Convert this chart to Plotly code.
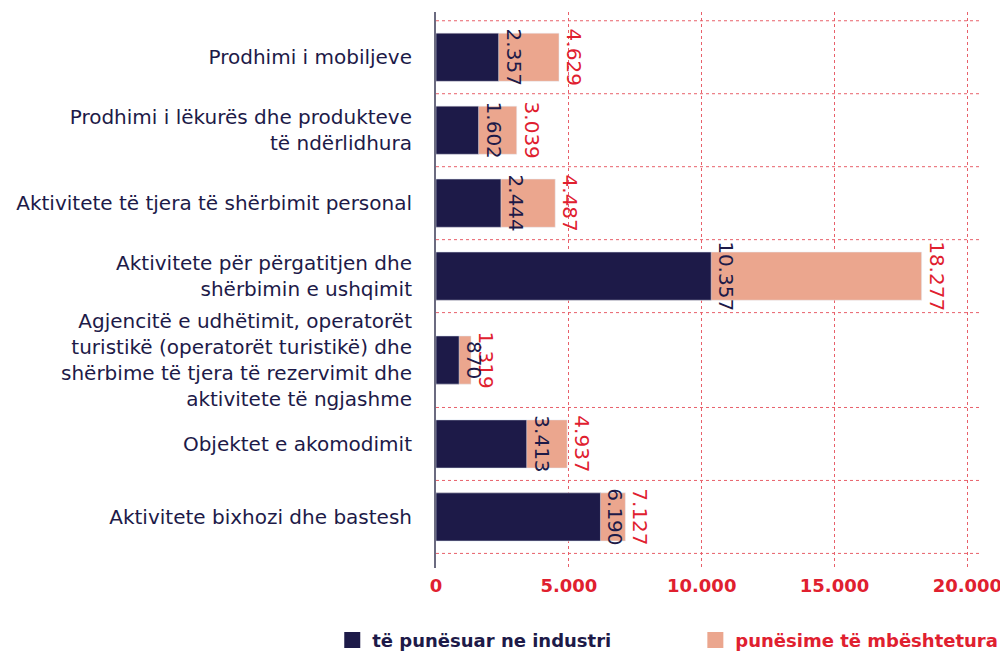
import plotly.graph_objects as go

categories = [
    "Prodhimi i mobiljeve",
    "Prodhimi i lëkurës dhe produkteve<br>të ndërlidhura",
    "Aktivitete të tjera të shërbimit personal",
    "Aktivitete për përgatitjen dhe<br>shërbimin e ushqimit",
    "Agjencitë e udhëtimit, operatorët<br>turistikë (operatorët turistikë) dhe<br>shërbime të tjera të rezervimit dhe<br>aktivitete të ngjashme",
    "Objektet e akomodimit",
    "Aktivitete bixhozi dhe bastesh",
]
employed = [2357, 1602, 2444, 10357, 870, 3413, 6190]
supported = [4629, 3039, 4487, 18277, 1319, 4937, 7127]
x_ticks = [0, 5000, 10000, 15000, 20000]

navy = "#1d1a48"
salmon = "#eba68e"
red = "#e0202f"
grid = "#e8606a"
font = "DejaVu Sans"

# rows with long (4-line) labels get more room, like the original layout
row_h = [1.3 if c.count("<br>") > 1 else 1.0 for c in categories]
edges = [0.0]
for h in row_h:
    edges.append(edges[-1] + h)
centers = [(edges[i] + edges[i + 1]) / 2 for i in range(len(categories))]

fig = go.Figure()

fig.add_trace(
    go.Bar(
        y=centers,
        x=supported,
        orientation="h",
        marker_color=salmon,
        width=0.66,
        texttemplate="%{x:,.0f}",
        textposition="outside",
        textangle=90,
        constraintext="none",
        cliponaxis=False,
        textfont=dict(color=red, size=20, family=font),
        showlegend=False,
    )
)

fig.add_trace(
    go.Bar(
        y=centers,
        x=employed,
        orientation="h",
        marker_color=navy,
        width=0.66,
        texttemplate="%{x:,.0f}",
        textposition="outside",
        textangle=90,
        constraintext="none",
        cliponaxis=False,
        textfont=dict(color=navy, size=20, family=font),
        showlegend=False,
    )
)

# legend entries
fig.add_trace(
    go.Scatter(
        x=[None], y=[None], mode="markers",
        marker=dict(symbol="square", size=22, color=navy),
        name="<b><span style='color:%s'>të punësuar ne industri</span></b>" % navy,
        legend="legend",
    )
)
fig.add_trace(
    go.Scatter(
        x=[None], y=[None], mode="markers",
        marker=dict(symbol="square", size=22, color=salmon),
        name="<b><span style='color:%s'>punësime të mbështetura</span></b>" % red,
        legend="legend2",
    )
)

# dotted separators between categories
for e in edges:
    fig.add_shape(
        type="line",
        xref="paper", x0=0, x1=1,
        yref="y", y0=e, y1=e,
        line=dict(color=grid, width=1, dash="dot"),
        layer="below",
    )

legend_style = dict(
    orientation="h",
    xanchor="left",
    y=-0.13,
    yanchor="middle",
    font=dict(size=18, family=font),
    itemsizing="trace",
    bgcolor="rgba(0,0,0,0)",
)

fig.update_layout(
    barmode="overlay",
    width=1000,
    height=660,
    margin=dict(l=428, r=26, t=4, b=100),
    plot_bgcolor="white",
    paper_bgcolor="white",
    separators=",.",
    font=dict(family=font, size=20, color=navy),
    legend=dict(legend_style, x=-0.19),
    legend2=dict(legend_style, x=0.475),
)

fig.update_xaxes(
    range=[0, 20550],
    tickvals=x_ticks,
    tickformat=",.0f",
    showgrid=True,
    gridcolor=grid,
    griddash="dot",
    gridwidth=1,
    zeroline=False,
    showline=False,
    automargin=False,
    ticks="outside",
    ticklen=1,
    tickcolor="rgba(0,0,0,0)",
    tickfont=dict(color=red, size=18, family=font, weight="bold"),
)

fig.update_yaxes(
    range=[edges[-1] + 0.2, -0.12],
    tickvals=centers,
    ticktext=categories,
    showgrid=False,
    zeroline=False,
    showline=True,
    linecolor="#6b6b80",
    linewidth=2,
    ticks="",
    automargin=False,
    ticklabelstandoff=18,
    tickfont=dict(color=navy, size=20, family=font),
)

fig.write_html("out.html")
